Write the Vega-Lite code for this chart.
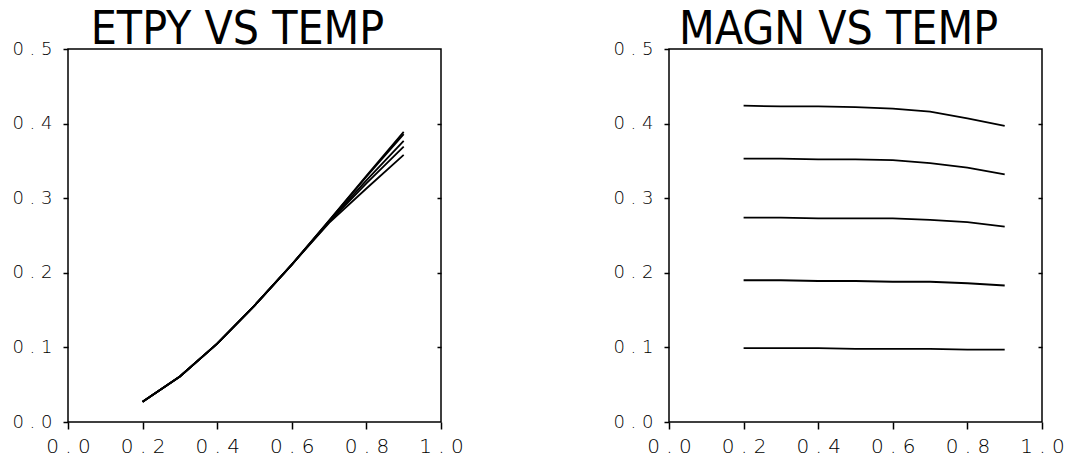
{
  "$schema": "https://vega.github.io/schema/vega-lite/v6.json",
  "background": "white",
  "padding": {"left": 11, "top": 6, "right": 1, "bottom": 2},
  "spacing": 147,
  "config": {
    "view": {"stroke": "black", "strokeWidth": 1.5},
    "title": {"font": "DejaVu Sans Condensed, sans-serif", "fontSize": 46, "fontWeight": "normal", "color": "black", "anchor": "middle", "offset": -14, "dx": -17},
    "axis": {"grid": false, "domain": false, "tickColor": "black", "tickWidth": 1.5, "labelColor": "#000000", "labelFont": "DejaVu Sans", "labelFontWeight": 200, "labelFlush": false, "labelOverlap": false, "title": null}
  },
  "datasets": {
    "curves": [
      {"panel": "ETPY", "series": "a", "t": 0.2, "v": 0.027}, {"panel": "ETPY", "series": "a", "t": 0.3, "v": 0.061}, {"panel": "ETPY", "series": "a", "t": 0.4, "v": 0.105}, {"panel": "ETPY", "series": "a", "t": 0.5, "v": 0.156}, {"panel": "ETPY", "series": "a", "t": 0.6, "v": 0.211}, {"panel": "ETPY", "series": "a", "t": 0.7, "v": 0.270}, {"panel": "ETPY", "series": "a", "t": 0.8, "v": 0.330}, {"panel": "ETPY", "series": "a", "t": 0.9, "v": 0.389},
      {"panel": "ETPY", "series": "b", "t": 0.2, "v": 0.027}, {"panel": "ETPY", "series": "b", "t": 0.3, "v": 0.061}, {"panel": "ETPY", "series": "b", "t": 0.4, "v": 0.105}, {"panel": "ETPY", "series": "b", "t": 0.5, "v": 0.156}, {"panel": "ETPY", "series": "b", "t": 0.6, "v": 0.211}, {"panel": "ETPY", "series": "b", "t": 0.7, "v": 0.270}, {"panel": "ETPY", "series": "b", "t": 0.8, "v": 0.329}, {"panel": "ETPY", "series": "b", "t": 0.9, "v": 0.386},
      {"panel": "ETPY", "series": "c", "t": 0.2, "v": 0.027}, {"panel": "ETPY", "series": "c", "t": 0.3, "v": 0.061}, {"panel": "ETPY", "series": "c", "t": 0.4, "v": 0.105}, {"panel": "ETPY", "series": "c", "t": 0.5, "v": 0.156}, {"panel": "ETPY", "series": "c", "t": 0.6, "v": 0.211}, {"panel": "ETPY", "series": "c", "t": 0.7, "v": 0.269}, {"panel": "ETPY", "series": "c", "t": 0.8, "v": 0.324}, {"panel": "ETPY", "series": "c", "t": 0.9, "v": 0.377},
      {"panel": "ETPY", "series": "d", "t": 0.2, "v": 0.027}, {"panel": "ETPY", "series": "d", "t": 0.3, "v": 0.061}, {"panel": "ETPY", "series": "d", "t": 0.4, "v": 0.105}, {"panel": "ETPY", "series": "d", "t": 0.5, "v": 0.156}, {"panel": "ETPY", "series": "d", "t": 0.6, "v": 0.211}, {"panel": "ETPY", "series": "d", "t": 0.7, "v": 0.268}, {"panel": "ETPY", "series": "d", "t": 0.8, "v": 0.320}, {"panel": "ETPY", "series": "d", "t": 0.9, "v": 0.369},
      {"panel": "ETPY", "series": "e", "t": 0.2, "v": 0.027}, {"panel": "ETPY", "series": "e", "t": 0.3, "v": 0.061}, {"panel": "ETPY", "series": "e", "t": 0.4, "v": 0.105}, {"panel": "ETPY", "series": "e", "t": 0.5, "v": 0.156}, {"panel": "ETPY", "series": "e", "t": 0.6, "v": 0.211}, {"panel": "ETPY", "series": "e", "t": 0.7, "v": 0.267}, {"panel": "ETPY", "series": "e", "t": 0.8, "v": 0.313}, {"panel": "ETPY", "series": "e", "t": 0.9, "v": 0.358},
      {"panel": "MAGN", "series": "a", "t": 0.2, "v": 0.424}, {"panel": "MAGN", "series": "a", "t": 0.3, "v": 0.423}, {"panel": "MAGN", "series": "a", "t": 0.4, "v": 0.423}, {"panel": "MAGN", "series": "a", "t": 0.5, "v": 0.422}, {"panel": "MAGN", "series": "a", "t": 0.6, "v": 0.420}, {"panel": "MAGN", "series": "a", "t": 0.7, "v": 0.416}, {"panel": "MAGN", "series": "a", "t": 0.8, "v": 0.407}, {"panel": "MAGN", "series": "a", "t": 0.9, "v": 0.397},
      {"panel": "MAGN", "series": "b", "t": 0.2, "v": 0.353}, {"panel": "MAGN", "series": "b", "t": 0.3, "v": 0.353}, {"panel": "MAGN", "series": "b", "t": 0.4, "v": 0.352}, {"panel": "MAGN", "series": "b", "t": 0.5, "v": 0.352}, {"panel": "MAGN", "series": "b", "t": 0.6, "v": 0.351}, {"panel": "MAGN", "series": "b", "t": 0.7, "v": 0.347}, {"panel": "MAGN", "series": "b", "t": 0.8, "v": 0.341}, {"panel": "MAGN", "series": "b", "t": 0.9, "v": 0.332},
      {"panel": "MAGN", "series": "c", "t": 0.2, "v": 0.274}, {"panel": "MAGN", "series": "c", "t": 0.3, "v": 0.274}, {"panel": "MAGN", "series": "c", "t": 0.4, "v": 0.273}, {"panel": "MAGN", "series": "c", "t": 0.5, "v": 0.273}, {"panel": "MAGN", "series": "c", "t": 0.6, "v": 0.273}, {"panel": "MAGN", "series": "c", "t": 0.7, "v": 0.271}, {"panel": "MAGN", "series": "c", "t": 0.8, "v": 0.268}, {"panel": "MAGN", "series": "c", "t": 0.9, "v": 0.262},
      {"panel": "MAGN", "series": "d", "t": 0.2, "v": 0.190}, {"panel": "MAGN", "series": "d", "t": 0.3, "v": 0.190}, {"panel": "MAGN", "series": "d", "t": 0.4, "v": 0.189}, {"panel": "MAGN", "series": "d", "t": 0.5, "v": 0.189}, {"panel": "MAGN", "series": "d", "t": 0.6, "v": 0.188}, {"panel": "MAGN", "series": "d", "t": 0.7, "v": 0.188}, {"panel": "MAGN", "series": "d", "t": 0.8, "v": 0.186}, {"panel": "MAGN", "series": "d", "t": 0.9, "v": 0.183},
      {"panel": "MAGN", "series": "e", "t": 0.2, "v": 0.099}, {"panel": "MAGN", "series": "e", "t": 0.3, "v": 0.099}, {"panel": "MAGN", "series": "e", "t": 0.4, "v": 0.099}, {"panel": "MAGN", "series": "e", "t": 0.5, "v": 0.098}, {"panel": "MAGN", "series": "e", "t": 0.6, "v": 0.098}, {"panel": "MAGN", "series": "e", "t": 0.7, "v": 0.098}, {"panel": "MAGN", "series": "e", "t": 0.8, "v": 0.097}, {"panel": "MAGN", "series": "e", "t": 0.9, "v": 0.097}
    ]
  },
  "hconcat": [
    {
      "width": 373, "height": 373,
      "title": "ETPY VS TEMP",
      "data": {"name": "curves"},
      "transform": [{"filter": "datum.panel === 'ETPY'"}],
      "resolve": {"axis": {"y": "independent"}},
      "layer": [
        {
          "mark": {"type": "line", "color": "black", "strokeWidth": 1.8},
          "encoding": {
            "x": {"field": "t", "type": "quantitative", "scale": {"domain": [0, 1], "nice": false, "zero": false},
                  "axis": {"values": [0, 0.2, 0.4, 0.6, 0.8, 1.0], "tickSize": 7, "labelPadding": 7, "labelFontSize": 20, "labelExpr": "replace(format(datum.value,'.1f'),'.',' . ')"}},
            "y": {"field": "v", "type": "quantitative", "scale": {"domain": [0, 0.5], "nice": false},
                  "axis": {"values": [0, 0.1, 0.2, 0.3, 0.4, 0.5], "tickSize": 5, "labelPadding": 11, "labelFontSize": 18, "labelExpr": "replace(format(datum.value,'.1f'),'.',' . ')"}},
            "detail": {"field": "series"}
          }
        },
        {
          "mark": {"type": "line", "opacity": 0},
          "encoding": {
            "x": {"field": "t", "type": "quantitative"},
            "y": {"field": "v", "type": "quantitative",
                  "axis": {"orient": "right", "values": [0.1, 0.2, 0.3, 0.4], "tickSize": -4, "labels": false}},
            "detail": {"field": "series"}
          }
        }
      ]
    },
    {
      "width": 373, "height": 373,
      "title": "MAGN VS TEMP",
      "data": {"name": "curves"},
      "transform": [{"filter": "datum.panel === 'MAGN'"}],
      "resolve": {"axis": {"y": "independent"}},
      "layer": [
        {
          "mark": {"type": "line", "color": "black", "strokeWidth": 1.8},
          "encoding": {
            "x": {"field": "t", "type": "quantitative", "scale": {"domain": [0, 1], "nice": false, "zero": false},
                  "axis": {"values": [0, 0.2, 0.4, 0.6, 0.8, 1.0], "tickSize": 7, "labelPadding": 7, "labelFontSize": 20, "labelExpr": "replace(format(datum.value,'.1f'),'.',' . ')"}},
            "y": {"field": "v", "type": "quantitative", "scale": {"domain": [0, 0.5], "nice": false},
                  "axis": {"values": [0, 0.1, 0.2, 0.3, 0.4, 0.5], "tickSize": 5, "labelPadding": 11, "labelFontSize": 18, "labelExpr": "replace(format(datum.value,'.1f'),'.',' . ')"}},
            "detail": {"field": "series"}
          }
        },
        {
          "mark": {"type": "line", "opacity": 0},
          "encoding": {
            "x": {"field": "t", "type": "quantitative"},
            "y": {"field": "v", "type": "quantitative",
                  "axis": {"orient": "right", "values": [0.1, 0.2, 0.3, 0.4], "tickSize": -4, "labels": false}},
            "detail": {"field": "series"}
          }
        }
      ]
    }
  ]
}
